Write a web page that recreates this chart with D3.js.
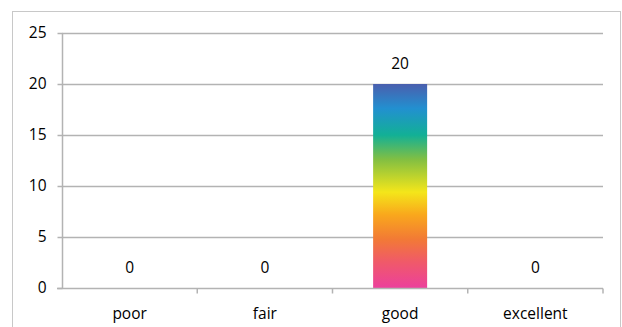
<!DOCTYPE html>
<html>
<head>
<meta charset="utf-8">
<script src="https://cdn.jsdelivr.net/npm/d3@7/dist/d3.min.js"></script>
<style>
  html, body { margin: 0; padding: 0; background: #fff; }
  svg { display: block; }
  text { font-family: "Open Sans", "Liberation Sans", sans-serif; fill: #000; }
</style>
</head>
<body>
<svg id="chart" width="622" height="327"></svg>
<script>
const categories = ["poor", "fair", "good", "excellent"];
const counts = [0, 0, 20, 0];
const yTicks = [0, 5, 10, 15, 20, 25];

const svg = d3.select("#chart");
const W = 622, H = 327;
const m = { left: 62, right: 19, top: 33, bottom: 39 };
const fontSize = 15.5;

// outer chart frame
svg.append("rect")
  .attr("x", 12.5).attr("y", 11.5)
  .attr("width", 608).attr("height", 330)
  .attr("fill", "none").attr("stroke", "#c8c8c8").attr("stroke-width", 1);

const xOuter = d3.scaleBand().domain(categories).range([m.left, W - m.right]);
const y = d3.scaleLinear().domain([0, 25]).range([H - m.bottom, m.top]);

// gridlines
svg.append("g").selectAll("line").data(yTicks.filter(d => d > 0)).join("line")
  .attr("x1", m.left).attr("x2", W - m.right)
  .attr("y1", d => Math.round(y(d)) + 0.5).attr("y2", d => Math.round(y(d)) + 0.5)
  .attr("stroke", "#b3b3b3").attr("stroke-width", 1.5);

// rainbow gradient for bars
const stops = [
  [0, "#4a5fae"], [0.12, "#2290d0"], [0.25, "#12b096"], [0.37, "#82bf42"],
  [0.53, "#f4e61a"], [0.64, "#f9a81c"], [0.76, "#f27a35"], [0.87, "#f05a68"], [1, "#ec409c"]
];
const grad = svg.append("defs").append("linearGradient")
  .attr("id", "rainbow").attr("x1", 0).attr("y1", 0).attr("x2", 0).attr("y2", 1);
grad.selectAll("stop").data(stops).join("stop")
  .attr("offset", d => d[0]).attr("stop-color", d => d[1]);

// bars
svg.append("g").selectAll("rect").data(categories).join("rect")
  .attr("x", (c) => xOuter(c) + xOuter.bandwidth() / 2 - 27)
  .attr("width", 54)
  .attr("y", (c, i) => y(counts[i]))
  .attr("height", (c, i) => y(0) - y(counts[i]))
  .attr("fill", "url(#rainbow)");

// value labels
svg.append("g").selectAll("text").data(categories).join("text")
  .attr("x", c => xOuter(c) + xOuter.bandwidth() / 2)
  .attr("y", (c, i) => y(counts[i]) - 15)
  .attr("text-anchor", "middle").attr("font-size", fontSize)
  .text((c, i) => counts[i]);

// y axis
const yAxis = svg.append("g").attr("transform", `translate(${m.left + 0.5},0)`)
  .call(d3.axisLeft(y).tickValues(yTicks).tickSize(5).tickPadding(11));
yAxis.select(".domain").attr("stroke", "#b3b3b3").attr("stroke-width", 1.5).attr("d", `M0,${y(0)}V${y(25)}`);
yAxis.selectAll(".tick line").attr("stroke", "#b3b3b3").attr("stroke-width", 1.5);
yAxis.selectAll(".tick text").attr("font-size", fontSize).attr("font-family", "'Open Sans', sans-serif").attr("fill", "#000");

// x axis
const xAxis = svg.append("g").attr("transform", `translate(0,${Math.round(y(0)) + 0.5})`);
xAxis.append("line").attr("x1", m.left - 5).attr("x2", W - m.right)
  .attr("stroke", "#b3b3b3").attr("stroke-width", 1.5);
const bounds = categories.map(c => xOuter(c)).concat([W - m.right]);
xAxis.selectAll("line.tick").data(bounds.slice(1)).join("line").attr("class", "tick")
  .attr("x1", d => d).attr("x2", d => d).attr("y1", 0).attr("y2", 5)
  .attr("stroke", "#b3b3b3").attr("stroke-width", 1.5);
xAxis.selectAll("text").data(categories).join("text")
  .attr("x", c => xOuter(c) + xOuter.bandwidth() / 2)
  .attr("y", 30).attr("text-anchor", "middle").attr("font-size", fontSize)
  .text(c => c);
</script>
</body>
</html>
